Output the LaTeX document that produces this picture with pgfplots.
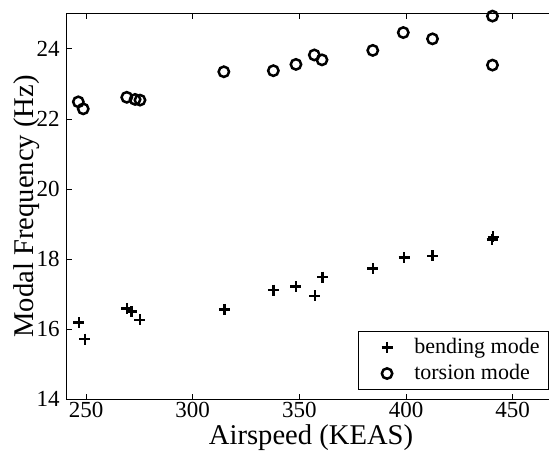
\documentclass[border=0pt]{standalone}
\usepackage{fontspec}
\setmainfont{Liberation Serif}
\usepackage{pgfplots}
\pgfplotsset{compat=1.18}

\pgfplotstableread{
x y
246.7 16.18
249.5 15.71
269.1 16.59
271.4 16.50
275.3 16.26
314.8 16.56
337.8 17.11
348.4 17.21
357.3 16.95
360.9 17.48
384.4 17.73
399.1 18.04
412.4 18.09
440.3 18.56
440.8 18.63
}\bending

\pgfplotstableread{
x y
246.4 22.49
248.7 22.29
269.1 22.62
273.0 22.56
275.3 22.54
314.6 23.35
337.8 23.38
348.4 23.56
357.0 23.83
360.6 23.69
384.4 23.96
398.7 24.47
412.4 24.29
440.5 24.94
440.5 23.54
}\torsion

\pgfplotsset{wideimage/.style={legend image code/.code={%
    \path (0pt,0pt) (22pt,0pt);
    \draw[mark repeat=2,mark phase=2,##1]
    plot coordinates {(0pt,0pt)(11pt,0pt)(22pt,0pt)};}}}

\begin{document}
\begin{tikzpicture}
\begin{axis}[name=ax,
  scale only axis, width=244.35pt, height=192.5pt,
  xmin=240.95, xmax=470, ymin=14, ymax=25,
  xtick={250,300,...,450}, ytick={14,16,...,24},
  tick align=inside, major tick length=2.5pt,
  axis line style={line width=0.5pt}, every tick/.style={black, line width=0.5pt},
  /pgf/number format/assume math mode=true,
  tick label style={font=\fontsize{11.5}{13}\selectfont},
  xticklabel style={yshift=0.5pt, inner ysep=2pt},
  xlabel={Airspeed (KEAS)}, ylabel={Modal Frequency (Hz)},
  label style={font=\fontsize{14.3}{16}\selectfont},
  xlabel style={at={(axis description cs:0.5,-0.118)}, anchor=base, inner sep=0.5pt},
  ylabel style={at={(axis description cs:-0.0683,0.5)}, anchor=base},
  legend style={at={(axis description cs:0.987,0.023)}, anchor=south east,
    draw=black, line width=0.5pt, font=\fontsize{11}{12.5}\selectfont,
    inner xsep=2.5pt, inner ysep=1.5pt},
  legend cell align=left,
]
\addplot[only marks, mark=+, mark size=2.75pt, line width=1.25pt, black, wideimage] table {\bending};
\addplot[only marks, mark=o, mark size=2.6pt, line width=1.25pt, black, wideimage] table {\torsion};
\legend{bending mode, torsion mode}
\end{axis}
\pgfresetboundingbox
\useasboundingbox ([xshift=-33.35pt,yshift=-25.5pt]ax.south west) rectangle ([xshift=241.15pt,yshift=199.5pt]ax.south west);
\end{tikzpicture}
\end{document}
